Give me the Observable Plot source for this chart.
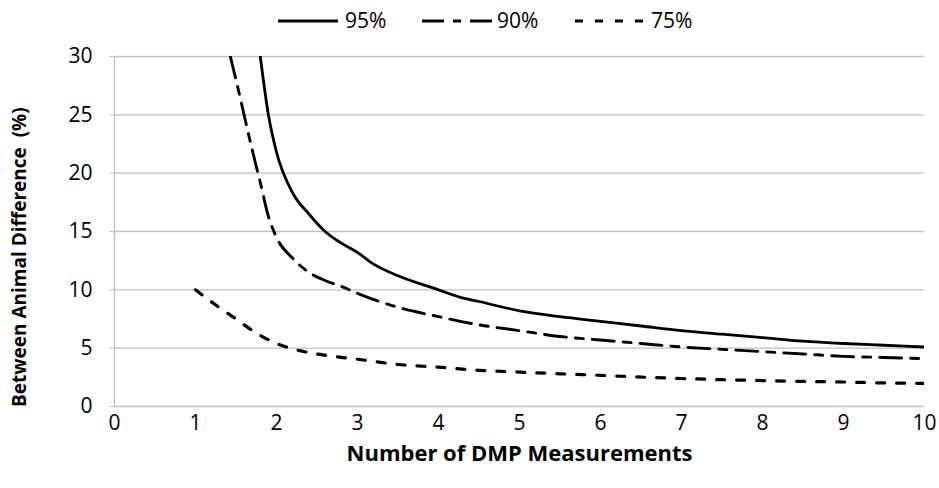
<!DOCTYPE html>
<html>
<head>
<meta charset="utf-8">
<script src="https://cdn.jsdelivr.net/npm/d3@7"></script>
<script src="https://cdn.jsdelivr.net/npm/@observablehq/plot@0.6"></script>
<style>
  html, body { margin: 0; padding: 0; background: #fff; }
  body { width: 939px; height: 488px; overflow: hidden; font-family: "Open Sans", Lato, sans-serif; }
  #chart svg { display: block; }
</style>
</head>
<body>
<div id="chart"></div>
<script>
// ---- data ----
const series = ["95%", "90%", "75%"];

const x95 = [1.8, 1.9, 2.0, 2.2, 2.4, 2.6, 2.8, 3.0, 3.2, 3.5, 4.0, 4.25, 4.5, 5, 5.5, 6, 6.5, 7, 7.5, 8, 8.5, 9, 9.5, 10];
const y95 = [30, 25, 21.8, 18.3, 16.5, 15.0, 14.0, 13.2, 12.2, 11.2, 10.0, 9.4, 9.0, 8.2, 7.7, 7.3, 6.9, 6.5, 6.2, 5.9, 5.6, 5.4, 5.25, 5.1];

const x90 = [1.43, 1.5, 1.6, 1.7, 1.8, 1.9, 2.0, 2.2, 2.4, 2.6, 2.8, 3.0, 3.5, 4, 4.5, 5, 5.5, 6, 6.5, 7, 7.5, 8, 8.5, 9, 9.5, 10];
const y90 = [30, 28, 25, 22, 19.2, 16.3, 14.5, 12.7, 11.5, 10.8, 10.3, 9.7, 8.5, 7.7, 7.0, 6.5, 6.0, 5.7, 5.4, 5.1, 4.9, 4.7, 4.5, 4.3, 4.2, 4.1];

const x75 = [1, 1.25, 1.5, 1.75, 2, 2.25, 2.5, 2.75, 3, 3.5, 4, 4.5, 5, 5.5, 6, 6.5, 7, 7.5, 8, 8.5, 9, 9.5, 10];
const y75 = [10, 8.7, 7.5, 6.3, 5.4, 4.85, 4.5, 4.25, 4.05, 3.6, 3.37, 3.1, 2.95, 2.8, 2.67, 2.52, 2.4, 2.3, 2.22, 2.15, 2.1, 2.02, 1.98];

const xTicks = [0, 1, 2, 3, 4, 5, 6, 7, 8, 9, 10];
const yTicks = [0, 5, 10, 15, 20, 25, 30];

const xLabel = "Number of DMP Measurements";
const yLabel = "Between Animal Difference  (%)";

// ---- build table ----
const toRows = (xs, ys, s) => xs.map((x, i) => ({x, y: ys[i], s}));
const rows = [
  ...toRows(x95, y95, series[0]),
  ...toRows(x90, y90, series[1]),
  ...toRows(x75, y75, series[2])
];
const dash = {"95%": null, "90%": "22,9,8,9", "75%": "8,12"};
const widths = {"95%": 2.8, "90%": 2.9, "75%": 3.2};

const FONT = "Open Sans";
const W = 939;
const TICK_FS = 21;

// ---- legend (above the plot) ----
const legendH = 40;
const leg = d3.create("svg").attr("width", W).attr("height", legendH)
  .style("font-family", FONT).style("font-size", TICK_FS + "px");
const legItems = [
  {s: series[0], x0: 278, x1: 338, tx: 345},
  {s: series[1], x0: 422, x1: 493, tx: 497},
  {s: series[2], x0: 575, x1: 647, tx: 651}
];
for (const it of legItems) {
  leg.append("line").attr("x1", it.x0).attr("x2", it.x1).attr("y1", 21).attr("y2", 21)
    .attr("stroke", "#000").attr("stroke-width", 3)
    .attr("stroke-dasharray", dash[it.s]);
  leg.append("text").attr("x", it.tx).attr("y", 21).attr("dy", "0.35em").attr("fill", "#000").text(it.s);
}

// ---- plot ----
const line = (s) => Plot.line(rows.filter(d => d.s === s), {
  x: "x", y: "y", stroke: "#000", strokeWidth: widths[s],
  strokeDasharray: dash[s], curve: "monotone-x", clip: true
});

const chart = Plot.plot({
  width: W,
  height: 488 - legendH,
  marginTop: 16,
  marginLeft: 114,
  marginRight: 15,
  marginBottom: 82,
  style: {fontFamily: FONT, fontSize: TICK_FS + "px", color: "#000", background: "#fff", overflow: "visible"},
  x: {type: "linear", domain: [0, 10], label: null},
  y: {type: "linear", domain: [0, 30], label: null},
  marks: [
    Plot.ruleY(yTicks, {stroke: "#bfbfbf", strokeWidth: 1.4}),
    Plot.ruleX([0], {y1: 0, y2: 30, stroke: "#bfbfbf", strokeWidth: 1.4}),
    Plot.axisY({ticks: yTicks, tickSize: 5, stroke: "#bfbfbf", tickPadding: 17, fontSize: TICK_FS, label: null}),
    Plot.axisX({ticks: xTicks, tickSize: 0, tickPadding: 9, fontSize: TICK_FS, label: null}),
    line(series[2]),
    line(series[1]),
    line(series[0]),
    Plot.text([xLabel], {x: 5, y: 0, text: d => d, dy: 47, fontWeight: "bold", fontSize: 22, fill: "#000"}),
    Plot.text([yLabel], {x: 0, y: 12.8, text: d => d, dx: -95, rotate: -90, fontWeight: "bold", fontSize: 19, fill: "#000"})
  ]
});

const holder = document.getElementById("chart");
holder.appendChild(leg.node());
holder.appendChild(chart);
</script>
</body>
</html>
